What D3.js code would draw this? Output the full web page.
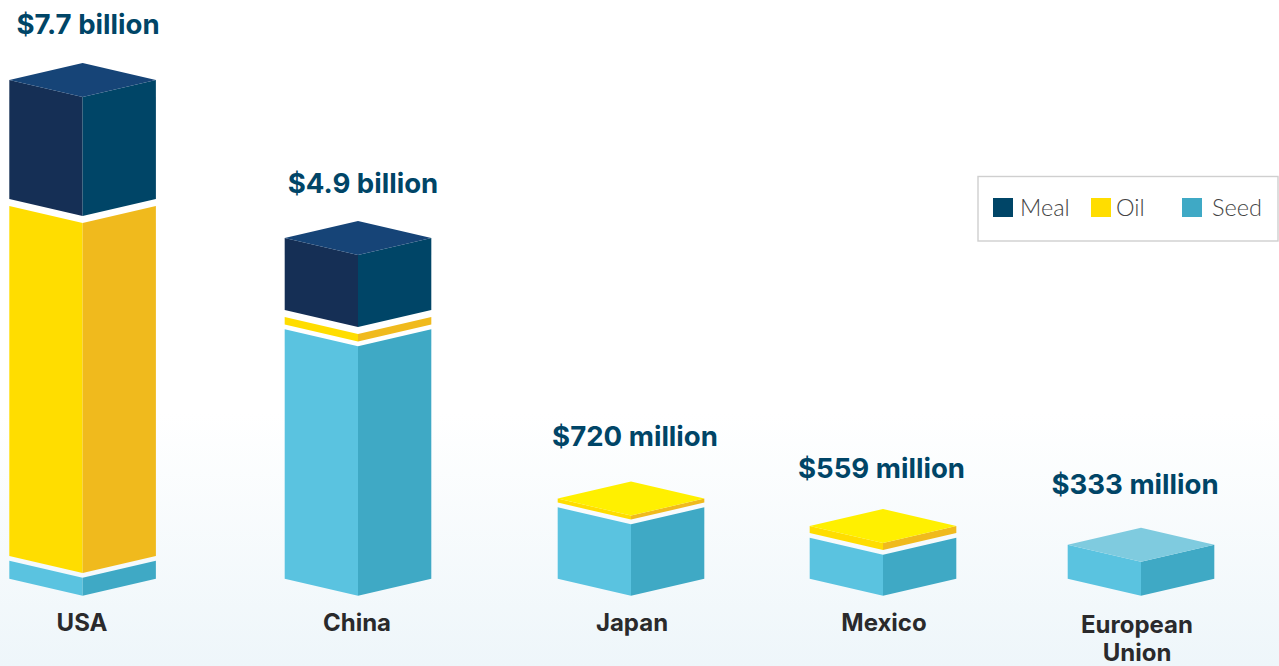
<!DOCTYPE html>
<html>
<head>
<meta charset="utf-8">
<title>Soybean exports</title>
<script src="https://cdn.jsdelivr.net/npm/d3@7"></script>
<style>
    html, body { margin: 0; padding: 0; background: #fff; overflow: hidden; }
    svg { display: block; }
    text { font-family: Inter, Lato, sans-serif; }
    .legend text { font-family: Lato, sans-serif; }
</style>
</head>
<body>
<div id="chart"></div>
<script>
const countries = ['USA', 'China', 'Japan', 'Mexico', 'European Union'];
const totals = ['$7.7 billion', '$4.9 billion', '$720 million', '$559 million', '$333 million'];

// segment heights as drawn in the picture (the blocks are not to dollar scale)
const seedValues = [18, 249.5, 71.5, 41, 34];
const oilValues = [350, 7.5, 4, 7, 0];
const mealValues = [119, 72, 0, 0, 0];

const legendNames = ['Meal', 'Oil', 'Seed'];

const WIDTH = 1279, HEIGHT = 666;
const BASE_Y = 595.8, HALF_W = 73.3, DEPTH = 17;
const GAPS = { Oil: 4.7, Meal: 7 };

const COLORS = {
    Meal: { left: '#152f55', right: '#004567', top: '#164477' },
    Oil: { left: '#ffdd00', right: '#f0ba1d', top: '#fff000' },
    Seed: { left: '#5ac3e0', right: '#3fa9c5', top: '#7fcbdf' },
};

const x = d3.scaleOrdinal().domain(countries).range([82.6, 358, 631, 883, 1141]);
const h = d3.scaleLinear().domain([0, 600]).range([0, 600]);

const svg = d3.select('#chart').append('svg')
    .attr('width', WIDTH)
    .attr('height', HEIGHT);

const grad = svg.append('defs').append('linearGradient')
    .attr('id', 'bg').attr('x1', 0).attr('x2', 0).attr('y1', 0).attr('y2', 1);
grad.append('stop').attr('offset', '0.62').attr('stop-color', '#ffffff');
grad.append('stop').attr('offset', '1').attr('stop-color', '#eef6fa');

svg.append('rect').attr('width', WIDTH).attr('height', HEIGHT).attr('fill', 'url(#bg)');

function pts(list) {
    return list.map(p => p.join(',')).join(' ');
}

function drawBlock(g, cx, bottom, top, col, withTop) {
    const l = cx - HALF_W, r = cx + HALF_W;
    g.append('polygon').attr('fill', col.left)
        .attr('points', pts([[l, bottom - DEPTH], [cx, bottom], [cx, top], [l, top - DEPTH]]));
    g.append('polygon').attr('fill', col.right)
        .attr('points', pts([[cx, bottom], [r, bottom - DEPTH], [r, top - DEPTH], [cx, top]]));
    if (withTop) {
        g.append('polygon').attr('fill', col.top)
            .attr('points', pts([[l, top - DEPTH], [cx, top], [r, top - DEPTH], [cx, top - 2 * DEPTH]]));
    }
}

countries.forEach((name, i) => {
    const g = svg.append('g').attr('class', 'bar');
    const segs = [
        { key: 'Seed', v: seedValues[i] },
        { key: 'Oil', v: oilValues[i] },
        { key: 'Meal', v: mealValues[i] },
    ].filter(s => s.v > 0);

    let y = BASE_Y;
    segs.forEach((s, j) => {
        if (j > 0) y -= GAPS[s.key];
        const top = y - h(s.v);
        drawBlock(g, x(name), y, top, COLORS[s.key], j === segs.length - 1);
        y = top;
    });
});

// value labels sit a little off the block centres in the original
const totalX = d3.scaleOrdinal().domain(totals).range([88, 363, 635, 881.5, 1135]);
const totalY = d3.scaleOrdinal().domain(totals).range([34, 193, 446, 478, 494]);

svg.append('g').selectAll('text').data(totals).join('text')
    .attr('x', d => totalX(d))
    .attr('y', d => totalY(d))
    .attr('text-anchor', 'middle')
    .attr('fill', '#004567')
    .style('font-size', '27.6px')
    .style('font-weight', 700)
    .text(d => d);

// category labels
const labelX = d3.scaleOrdinal().domain(countries).range([82, 357, 632, 884, 1137]);
const labelG = svg.append('g');
countries.forEach(name => {
    const words = name === 'European Union' ? name.split(' ') : [name];
    const startY = words.length > 1 ? 633 : 631;
    words.forEach((w, k) => {
        labelG.append('text')
            .attr('x', labelX(name))
            .attr('y', startY + k * 28)
            .attr('text-anchor', 'middle')
            .attr('fill', '#2a2a2c')
            .style('font-size', '24px')
            .style('font-weight', 700)
            .text(w);
    });
});

// legend
const legend = svg.append('g').attr('class', 'legend');
legend.append('rect')
    .attr('x', 978).attr('y', 176.5).attr('width', 300).attr('height', 64.5)
    .attr('fill', '#fff').attr('stroke', '#cfcfcf').attr('stroke-width', 1.4);

const swatchX = d3.scaleOrdinal().domain(legendNames).range([993, 1091, 1182]);
const legendTextX = d3.scaleOrdinal().domain(legendNames).range([1020, 1116, 1212]);
const legendColor = { Meal: COLORS.Meal.right, Oil: COLORS.Oil.left, Seed: COLORS.Seed.right };

legendNames.forEach(name => {
    legend.append('rect')
        .attr('x', swatchX(name)).attr('y', 198)
        .attr('width', 20).attr('height', 19)
        .attr('fill', legendColor[name]);
    legend.append('text')
        .attr('x', legendTextX(name)).attr('y', 216)
        .attr('fill', '#444')
        .style('font-size', '23.5px')
        .style('font-weight', 300)
        .text(name);
});
</script>
</body>
</html>
